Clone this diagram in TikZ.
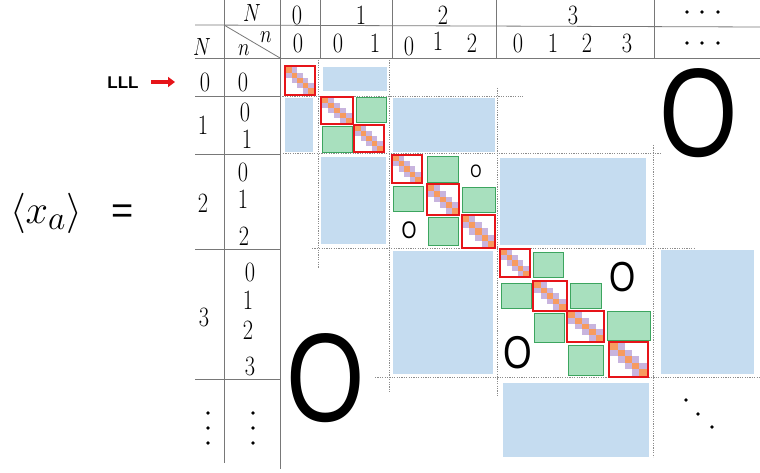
\documentclass[tikz,border=0pt]{standalone}
\usepackage{fontspec}
\newfontfamily\sansf{Liberation Sans}
\usetikzlibrary{arrows.meta}
\definecolor{blu}{RGB}{197,220,240}
\definecolor{grnf}{RGB}{168,224,190}
\definecolor{grnd}{RGB}{60,165,95}
\definecolor{orng}{RGB}{247,155,95}
\definecolor{lav}{RGB}{200,180,222}
\definecolor{redfr}{RGB}{230,20,25}
\definecolor{gridg}{RGB}{120,120,120}
\definecolor{dotg}{RGB}{140,140,140}
\newcommand\hdtxt[1]{\scalebox{0.8}[1]{\fontsize{28}{30}\selectfont #1}}
\newcommand\zeroO[1]{\scalebox{0.8}[1]{\fontsize{#1}{#1}\selectfont\sansf O}}
\newcommand\rblk[4]{%
  \pgfmathsetmacro\rbw{(#3-#1-2.6)/5}%
  \pgfmathsetmacro\rbh{(#4-#2-2.6)/5}%
  \foreach \i in {0,...,4}{\fill[orng] ({#1+1.3+\i*\rbw},{#2+1.3+\i*\rbh}) rectangle ++(\rbw,\rbh);}%
  \foreach \i in {0,...,3}{\fill[lav] ({#1+1.3+(\i+1)*\rbw},{#2+1.3+\i*\rbh}) rectangle ++(\rbw,\rbh);
     \fill[lav] ({#1+1.3+\i*\rbw},{#2+1.3+(\i+1)*\rbh}) rectangle ++(\rbw,\rbh);}%
  \draw[draw=redfr,line width=2.8pt] (#1,#2) rectangle (#3,#4);%
}
\begin{document}
\begin{tikzpicture}[x=1pt,y=-1pt,
  tbl/.style={draw=gridg, line width=0.8pt},
  dotl/.style={draw=dotg, line width=0.8pt, dash pattern=on 1.2pt off 1.2pt},
  bluebox/.style={fill=blu},
  greenbox/.style={fill=grnf, draw=grnd, line width=0.8pt},
  lbl/.style={inner sep=0pt},
  dotc/.style={fill=black},
  arrowst/.style={draw=redfr, line width=3.5pt, -{Triangle[length=7pt,width=10pt]}}]
\useasboundingbox (0,0) rectangle (760,473);
\fill[white] (0,0) rectangle (760,473);
% blue blocks
\fill[bluebox] (323,67) rectangle (387,91);
\fill[bluebox] (285,98) rectangle (313,152);
\fill[bluebox] (393,98) rectangle (495,152);
\fill[bluebox] (321,157) rectangle (386,244);
\fill[bluebox] (500,158) rectangle (646,245);
\fill[bluebox] (393,251) rectangle (493,374);
\fill[bluebox] (661,250) rectangle (754,374);
\fill[bluebox] (503,383) rectangle (649,457);
% dotted separators
\draw[dotl] (318,60) -- (318,268);
\draw[dotl] (389,60) -- (389,392);
\draw[dotl] (497,88) -- (497,397);
\draw[dotl] (653,145) -- (653,457);
\draw[dotl] (280,96) -- (523,96);
\draw[dotl] (283,153) -- (662,153);
\draw[dotl] (312,248) -- (695,248);
\draw[dotl] (375,377) -- (760,377);
% green blocks
\draw[greenbox] (356,97) rectangle (386,122);
\draw[greenbox] (322,126) rectangle (352,152);
\draw[greenbox] (427,156) rectangle (458,182);
\draw[greenbox] (393,186) rectangle (423,211);
\draw[greenbox] (462,187) rectangle (495,212);
\draw[greenbox] (428,217) rectangle (458,245);
\draw[greenbox] (533,252) rectangle (563,277);
\draw[greenbox] (501,283) rectangle (531,308);
\draw[greenbox] (570,283) rectangle (601,308);
\draw[greenbox] (534,313) rectangle (564,342);
\draw[greenbox] (607,311) rectangle (650,340);
\draw[greenbox] (568,345) rectangle (603,375);
% red diagonal blocks
\rblk{285}{66}{315}{95}
\rblk{321}{97}{353}{124}
\rblk{354}{125}{384}{152}
\rblk{392}{155}{422}{183}
\rblk{427}{184}{459}{215}
\rblk{462}{215}{495}{248}
\rblk{500}{249}{530}{277}
\rblk{533}{281}{567}{311}
\rblk{567}{311}{604}{342}
\rblk{609}{342}{648}{377}
% table lines
\draw[tbl] (195,25) -- (760,27);
\draw[tbl] (195,58) -- (760,58);
\draw[tbl] (195,96) -- (280,96);
\draw[tbl] (195,154) -- (280,154);
\draw[tbl] (195,249) -- (280,249);
\draw[tbl] (195,379) -- (280,379);
\draw[tbl] (224,0) -- (224,463);
\draw[tbl] (280,0) -- (280,469);
\draw[tbl] (320,0) -- (320,58);
\draw[tbl] (392,0) -- (392,58);
\draw[tbl] (496,0) -- (496,58);
\draw[tbl] (654,0) -- (654,58);
\draw[tbl] (224,25) -- (280,58);
% header text
\node[lbl] (hN) at (252,13) {\hdtxt{$N$}};
\node[lbl] (hN0) at (297,15) {\hdtxt{0}};
\node[lbl] (hN1) at (361,15) {\hdtxt{1}};
\node[lbl] (hN2) at (443,15) {\hdtxt{2}};
\node[lbl] (hN3) at (573,15) {\hdtxt{3}};
\node[lbl] (hLN) at (202,47) {\hdtxt{$N$}};
\node[lbl] (hnu) at (266,37) {\hdtxt{$n$}};
\node[lbl] (hnl) at (244,50) {\hdtxt{$n$}};
\node[lbl] (c00) at (298,43) {\hdtxt{0}};
\node[lbl] (c10) at (338,43) {\hdtxt{0}};
\node[lbl] (c11) at (375,43) {\hdtxt{1}};
\node[lbl] (c20) at (409,46) {\hdtxt{0}};
\node[lbl] (c21) at (438,41) {\hdtxt{1}};
\node[lbl] (c22) at (472,43) {\hdtxt{2}};
\node[lbl] (c30) at (518,43) {\hdtxt{0}};
\node[lbl] (c31) at (553,43) {\hdtxt{1}};
\node[lbl] (c32) at (587,43) {\hdtxt{2}};
\node[lbl] (c33) at (627,43) {\hdtxt{3}};
% row labels
\node[lbl] (rN0) at (205,82) {\hdtxt{0}};
\node[lbl] (rN1) at (203,125) {\hdtxt{1}};
\node[lbl] (rN2) at (203,203) {\hdtxt{2}};
\node[lbl] (rN3) at (204,317) {\hdtxt{3}};
\node[lbl] (r00) at (243,82) {\hdtxt{0}};
\node[lbl] (r10) at (245,112) {\hdtxt{0}};
\node[lbl] (r11) at (247,139) {\hdtxt{1}};
\node[lbl] (r20) at (243,172) {\hdtxt{0}};
\node[lbl] (r21) at (243,199) {\hdtxt{1}};
\node[lbl] (r22) at (244,236) {\hdtxt{2}};
\node[lbl] (r30) at (250,272) {\hdtxt{0}};
\node[lbl] (r31) at (248,300) {\hdtxt{1}};
\node[lbl] (r32) at (248,330) {\hdtxt{2}};
\node[lbl] (r33) at (250,366) {\hdtxt{3}};
% dots
\foreach \xx in {687,702,718}{\fill[dotc] (\xx,12) circle (1.8); \fill[dotc] (\xx,43) circle (1.8);}
\foreach \yy in {413,428,443}{\fill[dotc] (208,\yy) circle (1.8); \fill[dotc] (253,\yy) circle (1.8);}
\fill[dotc] (686,400) circle (1.9);
\fill[dotc] (698,414) circle (1.9);
\fill[dotc] (712,427) circle (1.9);
% zero labels
\node[lbl] (zTR) at (699,113) {\zeroO{126}};
\node[lbl] (zBL) at (326,378) {\zeroO{126}};
\node[lbl] (z2a) at (476,171) {\zeroO{18}};
\node[lbl] (z2b) at (409,230) {\zeroO{24}};
\node[lbl] (z3a) at (623,277) {\zeroO{42}};
\node[lbl] (z3b) at (518,353) {\zeroO{46}};
% left side
\node[lbl] (xa) at (46,213) {\scalebox{1.62}{\fontsize{24.88}{28}\selectfont $\langle x_a\rangle$}};
\node[lbl] (eq) at (123,214) {\fontsize{38}{40}\selectfont\sansf =};
\node[lbl] (lll) at (123,83) {\fontsize{17}{19}\selectfont\sansf\bfseries LLL};
\coordinate (arS) at (151,82);
\coordinate (arE) at (175,82);
\draw[arrowst] (arS) -- (arE);
\end{tikzpicture}
\end{document}
